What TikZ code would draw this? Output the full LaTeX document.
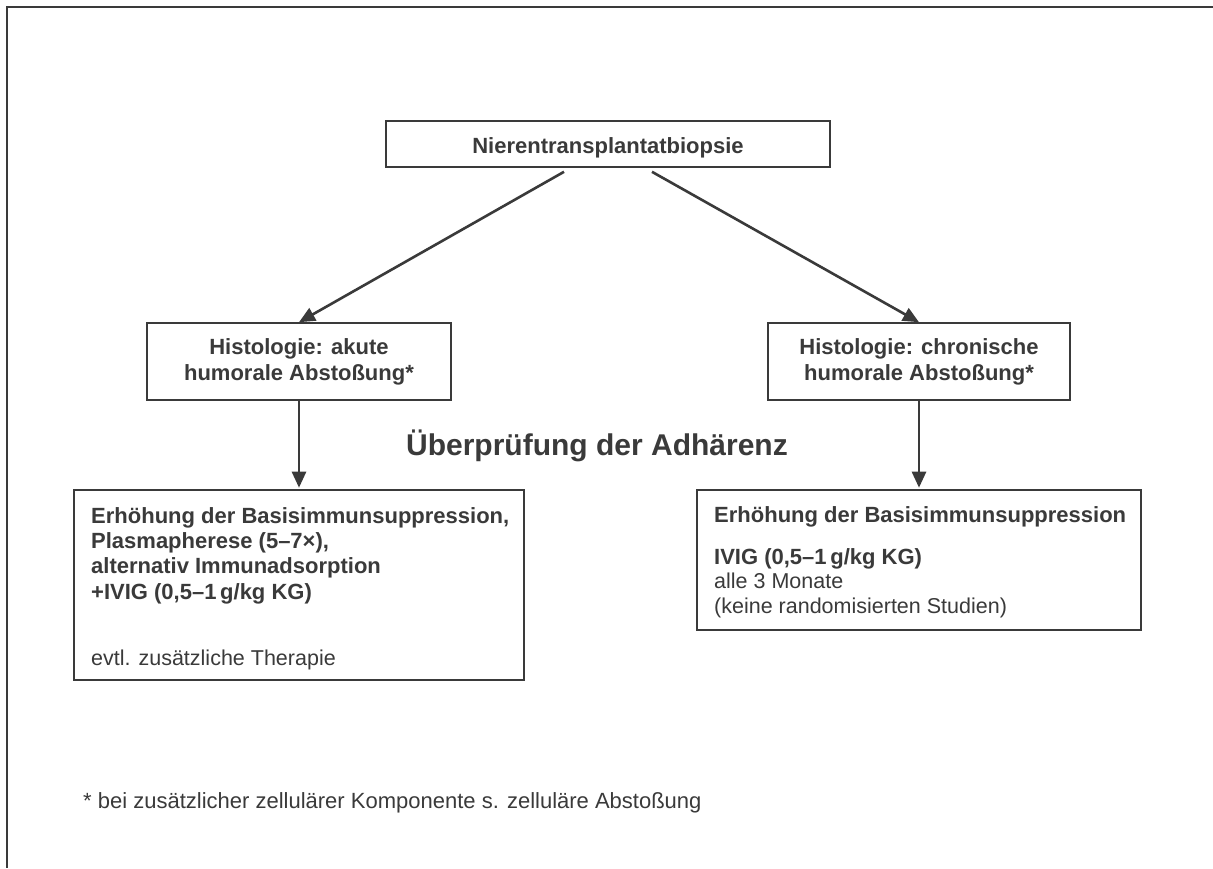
\documentclass[tikz,border=0pt]{standalone}
\usepackage{fontspec}
\setmainfont{Liberation Sans}
\usetikzlibrary{arrows.meta,calc}
\definecolor{ink}{HTML}{3A3A3A}
\begin{document}
\begin{tikzpicture}[x=1pt,y=-1pt,
  box/.style={draw=ink, line width=1.6pt, rectangle, inner sep=0pt},
  arr/.style={draw=ink, line width=2.6pt, -{Triangle[length=16pt,width=14pt]}},
  bt/.style={font=\fontsize{22}{26}\selectfont\bfseries, text=ink, inner sep=0pt, align=center, anchor=base},
  bl/.style={font=\fontsize{22}{25.3}\selectfont\bfseries, text=ink, align=left, inner sep=0pt, anchor=base west},
  rl/.style={font=\fontsize{21.5}{25}\selectfont, text=ink, align=left, inner sep=0pt, anchor=base west}]
\useasboundingbox (0,0) rectangle (1213,868);
\fill[white] (0,0) rectangle (1213,868);
\draw[ink, line width=2pt] (1213,7) -- (7,7) -- (7,868);

\node[box, minimum width=444pt, minimum height=46pt] (top) at (608,144) {};
\node[box, minimum width=304pt, minimum height=77pt] (hl) at (299,361.5) {};
\node[box, minimum width=302pt, minimum height=77pt] (hr) at (919,361.5) {};
\node[box, minimum width=450pt, minimum height=190pt] (tl) at (299,585) {};
\node[box, minimum width=444pt, minimum height=140pt] (tr) at (919,560) {};

\node[bt] (toptxt) at (608,153) {Nierentransplantatbiopsie};
\node[bt] (hltxt) at (299,380.5) {Histologie: akute\\humorale Abstoßung*};
\node[bt] (hrtxt) at (919,380.5) {Histologie: chronische\\humorale Abstoßung*};

\draw[arr] ($(top.south)+(-44,4)$) -- (hl.north);
\draw[arr] ($(top.south)+(44,4)$) -- (hr.north);
\draw[arr] (hl.south) -- ($(tl.north)+(0,-1.5)$);
\draw[arr] (hr.south) -- ($(tr.north)+(0,-1.5)$);

\node[font=\fontsize{30}{34}\selectfont\bfseries, text=ink, inner sep=0pt, anchor=base east] (adh) at (788,455) {Überprüfung der Adhärenz};

\node[bl] (tl1) at (91,599) {Erhöhung der Basisimmunsuppression,\\Plasmapherese (5–7×),\\alternativ Immunadsorption\\+IVIG (0,5–1\,g/kg KG)};
\node[rl] (tl2) at (91,665) {evtl. zusätzliche Therapie};

\node[bl] (tr1) at (714,522) {Erhöhung der Basisimmunsuppression};
\node[bl] (tr2) at (714,564) {IVIG (0,5–1\,g/kg KG)};
\node[rl] (tr3) at (714,613) {alle 3 Monate\\(keine randomisierten Studien)};

\node[font=\fontsize{22}{26}\selectfont, text=ink, inner sep=0pt, anchor=base west] (fn) at (83,808) {* bei zusätzlicher zellulärer Komponente s. zelluläre Abstoßung};
\end{tikzpicture}
\end{document}
